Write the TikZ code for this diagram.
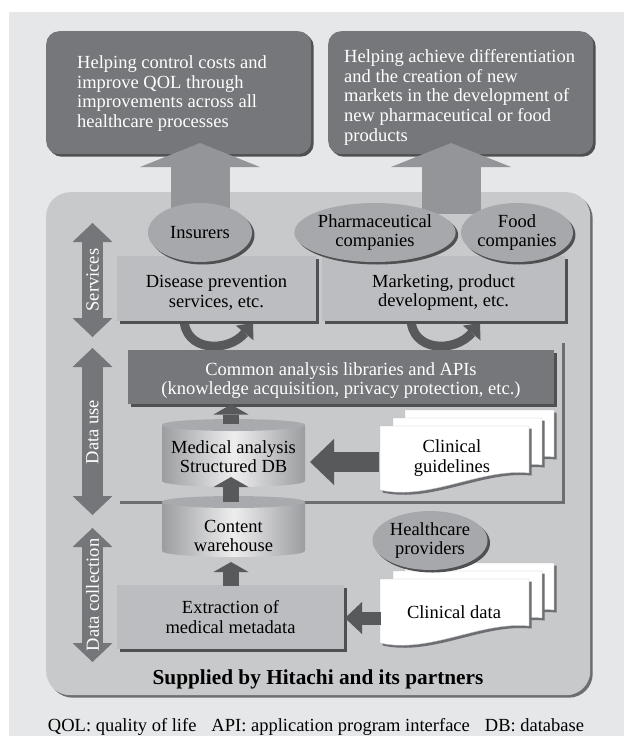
\documentclass[tikz,border=0pt]{standalone}
\usepackage{fontspec}
\setmainfont{Liberation Serif}
\usetikzlibrary{arrows.meta,shapes.geometric,shadows}
\definecolor{bgc}{HTML}{E6E7E8}
\definecolor{topc}{HTML}{76777A}
\definecolor{bigarrc}{HTML}{939598}
\definecolor{contc}{HTML}{C8C9CB}
\definecolor{boxc}{HTML}{BCBDC0}
\definecolor{ellc}{HTML}{A6A8AB}
\definecolor{darkc}{HTML}{58595B}
\definecolor{shc}{HTML}{4F5052}
\definecolor{shl}{HTML}{6D6E71}
\definecolor{cylE}{HTML}{9C9DA0}
\definecolor{cylM}{HTML}{EEEEEF}
\definecolor{capc}{HTML}{A9AAAD}
\definecolor{dblc}{HTML}{75767A}
\begin{document}
\begin{tikzpicture}[x=1pt,y=-1pt,
  txt/.style={font=\fontsize{18.5}{19.6}\selectfont, inner sep=0pt, align=center, text=black},
  wtxt/.style={txt, text=white},
  shd/.style={general shadow={fill=#1, shadow xshift=2.5pt, shadow yshift=-2.5pt}},
  topbox/.style={fill=topc, rounded corners=13pt, inner sep=0pt, shd=shc},
  contbox/.style={fill=contc, rounded corners=24pt, inner sep=0pt, shd=shl},
  regbox/.style={fill=contc, inner sep=0pt, shd=shl},
  svcbox/.style={fill=boxc, inner sep=0pt, shd=shc},
  combox/.style={fill=topc, inner sep=0pt, shd=shc},
  oval/.style={ellipse, fill=ellc, inner sep=0pt, shd=shc, txt},
  bigarrow/.style={draw=bigarrc, line width=59pt, -{Triangle[width=120pt,length=24pt,line width=0pt]}},
  dblarrow/.style={draw=dblc, line width=21pt, {Triangle[width=40pt,length=19pt,line width=0pt]}-{Triangle[width=40pt,length=19pt,line width=0pt]}},
  uarrow/.style={draw=darkc, line width=9pt, -{Triangle[width=23pt,length=13pt,line width=0pt]}},
  smarrow/.style={draw=darkc, line width=16pt, -{Triangle[width=35pt,length=10pt,line width=0pt]}},
  docfill/.style={fill=white, draw=black!25, line width=0.4pt, shd=shl},
  docsheet/.pic={\path[docfill] (0,0) -- (149,0) -- (149,47) .. controls (100,42) and (50,75) .. (0,64) -- cycle;}
]
\useasboundingbox (0,0) rectangle (624,736);
\fill[white] (0,0) rectangle (624,736);
\fill[bgc] (9,12) rectangle (624,736);

% goal boxes
\node[topbox, anchor=north west, minimum width=265pt, minimum height=123pt] (goalL) at (46,31) {};
\node[topbox, anchor=north west, minimum width=265pt, minimum height=123pt] (goalR) at (328,31) {};
\node[wtxt, anchor=north west, align=left] (goalLt) at (77,55.4) {Helping control costs and\\improve QOL through\\improvements across all\\healthcare processes};
\node[wtxt, anchor=north west, align=left] (goalRt) at (344,49.4) {Helping achieve differentiation\\and the creation of new\\markets in the development of\\new pharmaceutical or food\\products};

% container and data-use region
\node[contbox, anchor=north west, minimum width=544pt, minimum height=503pt] (cont) at (46,192) {};
\node[regbox, anchor=north west, minimum width=445pt, minimum height=161pt] (usereg) at (117,340) {};

% big arrows
\coordinate (baseL) at (200,214); \coordinate (tipL) at (200,143);
\coordinate (baseR) at (451,214); \coordinate (tipR) at (451,143);
\draw[bigarrow] (baseL) -- (tipL);
\draw[bigarrow] (baseR) -- (tipR);

% U arrows
\coordinate (uL1) at (184,318); \coordinate (uL2) at (253,323);
\coordinate (uR1) at (411,318); \coordinate (uR2) at (480,323);
\draw[uarrow] (uL1) .. controls (184,352) and (228,353) .. (uL2);
\draw[uarrow] (uR1) .. controls (411,352) and (455,353) .. (uR2);

% service boxes
\node[svcbox, anchor=north west, minimum width=199pt, minimum height=65pt] (dis) at (117,256) {};
\node[svcbox, anchor=north west, minimum width=243pt, minimum height=65pt] (mkt) at (322,256) {};
\node[txt] (dist) at (216.5,292.6) {Disease prevention\\services, etc.};
\node[txt] (mktt) at (443.5,292.6) {Marketing, product\\development, etc.};

% ellipses
\node[oval, minimum width=104pt, minimum height=59pt] (ins) at (200,232.5) {Insurers};
\node[oval, minimum width=130pt, minimum height=59pt] (pha) at (375,232.5) {Pharmaceutical\\companies};
\node[oval, minimum width=108pt, minimum height=59pt] (food) at (517,232.5) {Food\\companies};

% layer arrows
\coordinate (sT) at (92.5,223); \coordinate (sB) at (92.5,337);
\coordinate (dT) at (92.5,348); \coordinate (dB) at (92.5,515);
\coordinate (cT) at (92.5,528); \coordinate (cB) at (92.5,662);
\draw[dblarrow] (sT) -- (sB);
\draw[dblarrow] (dT) -- (dB);
\draw[dblarrow] (cT) -- (cB);
\node[wtxt, rotate=90] (lblS) at (92.5,280) {Services};
\node[wtxt, rotate=90] (lblD) at (92.5,432) {Data use};
\node[wtxt, rotate=90] (lblC) at (92.5,595) {Data collection};

% common analysis
\node[combox, anchor=north west, minimum width=426pt, minimum height=54pt] (com) at (128,350) {};
\node[wtxt] (comt) at (341,380.5) {Common analysis libraries and APIs\\(knowledge acquisition, privacy protection, etc.)};

% cylinders
\path[left color=cylE, right color=cylE, middle color=cylM] (162,425) -- (162,481) arc[start angle=180, end angle=360, x radius=71.5pt, y radius=6pt] -- (305,425) arc[start angle=0, end angle=180, x radius=71.5pt, y radius=6pt] -- cycle;
\fill[capc] (233.5,425) ellipse [x radius=71.5pt, y radius=6pt];
\path[left color=cylE, right color=cylE, middle color=cylM] (162,502) -- (162,551) arc[start angle=180, end angle=360, x radius=71.5pt, y radius=6pt] -- (305,502) arc[start angle=0, end angle=180, x radius=71.5pt, y radius=6pt] -- cycle;
\fill[capc] (233.5,502) ellipse [x radius=71.5pt, y radius=6pt];
\node[txt] (medt) at (233.5,456.7) {Medical analysis\\Structured DB};
\node[txt] (cwt) at (233.5,536) {Content\\warehouse};

% extraction box
\node[svcbox, anchor=north west, minimum width=227pt, minimum height=64pt] (ext) at (117,585) {};
\node[txt] (extt) at (230.5,617) {Extraction of\\medical metadata};

% small arrows
\coordinate (m1) at (231,424); \coordinate (m2) at (231,404.5);
\coordinate (w1) at (231,502); \coordinate (w2) at (231,477);
\coordinate (e1) at (231,586); \coordinate (e2) at (231,562);
\draw[smarrow] (m1) -- (m2);
\draw[smarrow] (w1) -- (w2);
\draw[smarrow] (e1) -- (e2);

% documents
\pic at (405,410) {docsheet};
\pic at (393,418) {docsheet};
\pic at (380,426) {docsheet};
\node[txt] (guit) at (452,458) {Clinical\\guidelines};
\pic at (405,563) {docsheet};
\pic at (393,571) {docsheet};
\pic at (380,579) {docsheet};
\node[txt] (cdt) at (454,611.7) {Clinical data};

\coordinate (g1) at (379,462); \coordinate (g2) at (310,462);
\draw[draw=darkc, line width=20pt, -{Triangle[width=46pt,length=24pt,line width=0pt]}] (g1) -- (g2);
\coordinate (c1) at (381,618); \coordinate (c2) at (345,618);
\draw[draw=darkc, line width=13pt, -{Triangle[width=32pt,length=17pt,line width=0pt]}] (c1) -- (c2);

\node[oval, minimum width=115pt, minimum height=59pt] (hcp) at (430,540.5) {Healthcare\\providers};

\node[txt, font=\bfseries\fontsize{21.3}{24}\selectfont] (sup) at (318,679) {Supplied by Hitachi and its partners};
\node[txt, anchor=base] (foot) at (316,731) {QOL: quality of life\hspace{15pt}API: application program interface\hspace{15pt}DB: database};
\end{tikzpicture}
\end{document}
